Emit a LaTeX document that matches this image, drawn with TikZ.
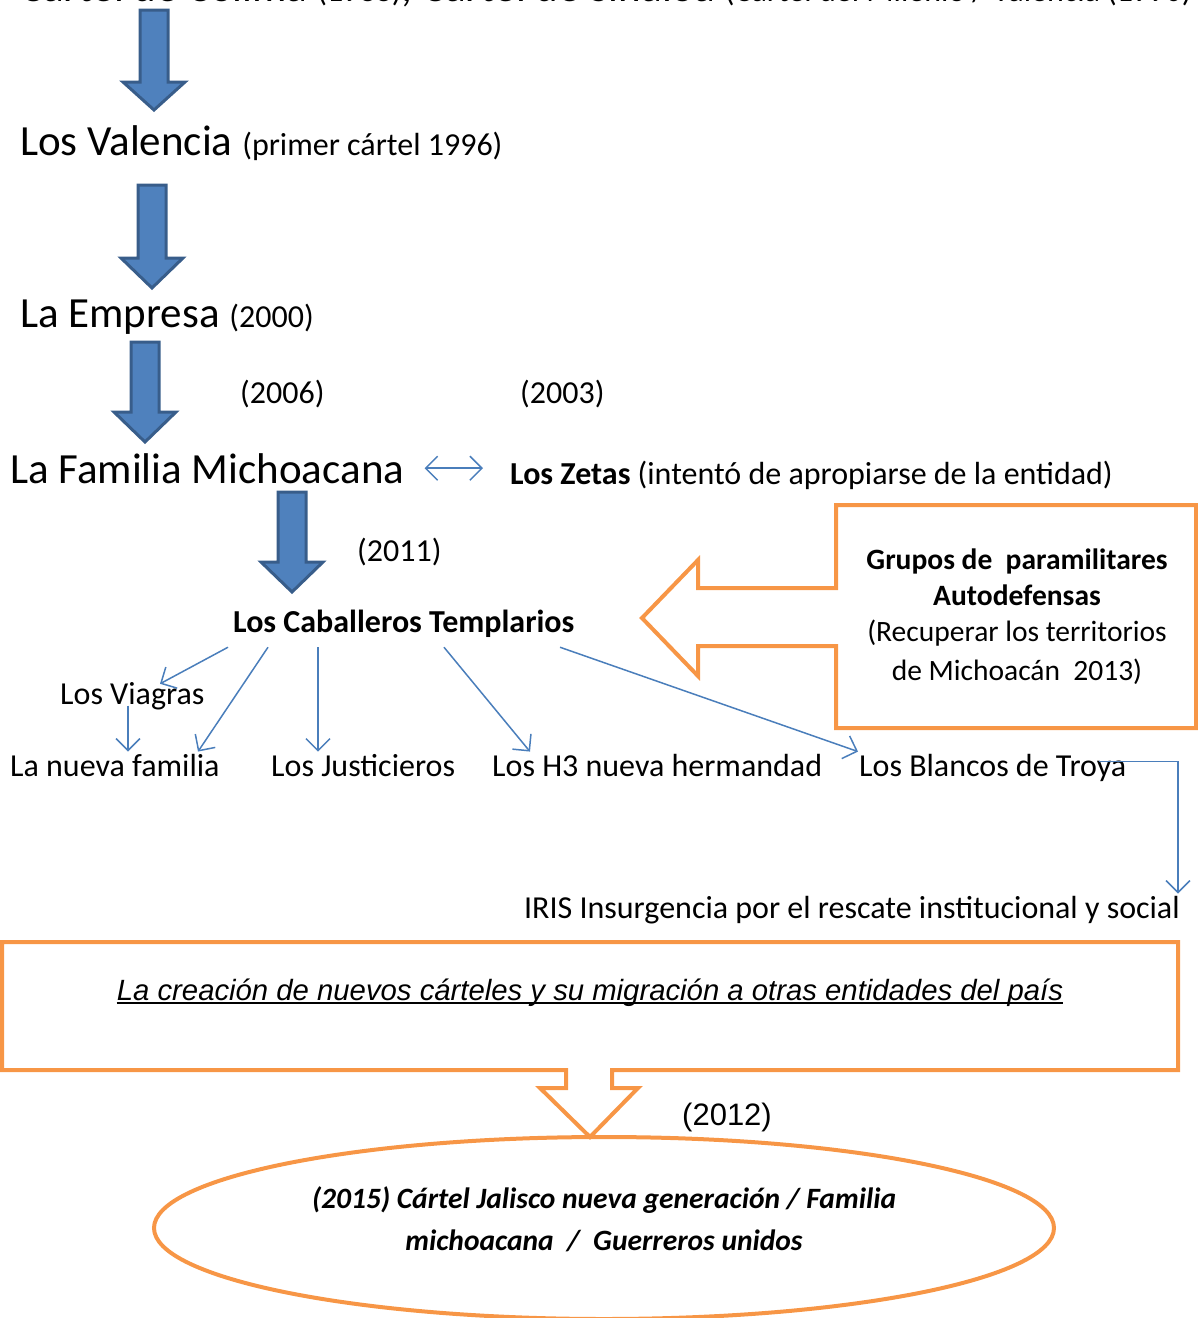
\documentclass[tikz,border=0pt]{standalone}
\usepackage{fontspec}
\setmainfont{Carlito}
\newfontfamily\arialfont{Liberation Sans}
\usetikzlibrary{arrows.meta, shapes, positioning}
\usepackage{xcolor}
\definecolor{arrowblue}{RGB}{79,129,189}
\definecolor{arrowborder}{RGB}{56,93,138}
\definecolor{lineblue}{RGB}{74,126,187}
\definecolor{boxorange}{RGB}{247,150,70}
\newcommand\midsize{\fontsize{32}{38}\selectfont}

\begin{document}
\begin{tikzpicture}[
        x=1pt, y=-1pt, line join=miter,
        bigtext/.style={anchor=base west, inner sep=0pt, font=\fontsize{43}{50}\selectfont},
        midtext/.style={anchor=base west, inner sep=0pt, font=\midsize},
        bluearrow/.style={fill=arrowblue, draw=arrowborder, line width=3pt},
        orangeshape/.style={draw=boxorange, line width=4pt},
        thinarrow/.style={draw=lineblue, line width=1.5pt, -{Straight Barb[length=12pt, width=24pt]}}
        ]
        \useasboundingbox (0,0) rectangle (1198,1318);
        \clip (0,0) rectangle (1198,1318);

        %% Texts
        \node[bigtext] (top) at (20,1) {C\'artel de Colima {\midsize(1988)}, C\'artel de Sinaloa {\midsize(C\'artel del Milenio / Valencia (1990)}};
        \node[bigtext] (val) at (20,155) {Los Valencia {\midsize(primer c\'artel 1996)}};
        \node[bigtext] (emp) at (20,327) {La Empresa {\midsize(2000)}};
        \node[midtext] (y06) at (240,403) {(2006)};
        \node[midtext] (y03) at (520,403) {(2003)};
        \node[bigtext] (fam) at (10,483) {La Familia Michoacana};
        \node[midtext] (zet) at (510,484) {\textbf{Los Zetas} (intent\'o de apropiarse de la entidad)};
        \node[midtext] (y11) at (357,561) {(2011)};
        \node[midtext, font=\midsize\bfseries] (cab) at (233,632) {Los Caballeros Templarios};
        \node[midtext] (via) at (60,704) {Los Viagras};
        \node[midtext] (nfa) at (10,776) {La nueva familia};
        \node[midtext] (jus) at (271,776) {Los Justicieros};
        \node[midtext] (hth) at (492,776) {Los H3 nueva hermandad};
        \node[midtext] (bla) at (859,776) {Los Blancos de Troya};
        \node[midtext, anchor=base east] (iris) at (1180,918) {IRIS Insurgencia por el rescate institucional y social};

        %% Block arrows
        \foreach \cx/\ta/\hb/\tb in {154/10/82/110, 152/185/258/288, 145/342/412/442, 292/492/562/592} {
            \draw[bluearrow] (\cx-14,\ta) -- (\cx+14,\ta) -- (\cx+14,\hb) -- (\cx+31,\hb) -- (\cx,\tb) -- (\cx-31,\hb) -- (\cx-14,\hb) -- cycle;
        }

        %% Connectors
        \draw[thinarrow, {Straight Barb[length=12pt, width=24pt]}-{Straight Barb[length=12pt, width=24pt]}]
            ([xshift=20pt]fam.east) -- ([xshift=-27pt]zet.west |- fam.east);
        \draw[thinarrow] ([xshift=-5pt, yshift=-10pt]cab.south west) -- ([xshift=100pt, yshift=-2pt]via.north west);
        \draw[thinarrow] ([xshift=35pt, yshift=-10pt]cab.south west) -- ([xshift=188pt, yshift=2pt]nfa.north west);
        \draw[thinarrow] ([xshift=85pt, yshift=-10pt]cab.south west) -- ([xshift=47pt, yshift=2pt]jus.north west);
        \draw[thinarrow] ([xshift=211pt, yshift=-10pt]cab.south west) -- ([xshift=38pt, yshift=2pt]hth.north west);
        \draw[thinarrow] ([xshift=327pt, yshift=-10pt]cab.south west) -- ([xshift=-1pt, yshift=2pt]bla.north west);
        \draw[thinarrow] ([xshift=68pt, yshift=4pt]via.south west) -- ([xshift=118pt, yshift=2pt]nfa.north west);
        \draw[thinarrow] ([xshift=-28pt, yshift=6pt]bla.east) -| ([xshift=-2pt, yshift=2pt]iris.north east);

        %% Autodefensas
        \draw[orangeshape] (836,505) -- (1196,505) -- (1196,728) -- (836,728) -- (836,646) -- (698,646) -- (698,676)
            -- (642,618) -- (698,560) -- (698,588) -- (836,588) -- cycle;
        \node[align=center, inner sep=0pt, font=\fontsize{29.5}{36}\selectfont] (gru) at (1017,617)
            {\textbf{Grupos de~~paramilitares}\\ \textbf{Autodefensas}\\ (Recuperar los territorios\\[3pt] de Michoac\'an~~2013)};

        %% Migracion
        \draw[orangeshape] (2,942) -- (1178,942) -- (1178,1070) -- (612,1070) -- (612,1088) -- (638,1088) -- (590,1137)
            -- (540,1088) -- (566,1088) -- (566,1070) -- (2,1070) -- cycle;
        \node[anchor=base, inner sep=0pt, font=\arialfont\fontsize{29.3}{34}\selectfont\itshape] (cre) at (590,1000)
            {La creaci\'on de nuevos c\'arteles y su migraci\'on a otras entidades del pa\'is};
        \draw[line width=1.5pt] ([yshift=-3pt]cre.base west) -- ([yshift=-3pt]cre.base east);
        \node[anchor=base west, inner sep=0pt, font=\arialfont\fontsize{31}{37}\selectfont] (y12) at (682,1125) {(2012)};

        \node[ellipse, orangeshape, minimum width=900pt, minimum height=182pt, inner sep=0pt] (jal) at (604,1228) {};
        \node[align=center, inner sep=0pt, font=\fontsize{29.5}{42}\selectfont\bfseries\itshape] (jtx) at (604,1219)
            {(2015) C\'artel Jalisco nueva generaci\'on / Familia\\ michoacana~~/~~Guerreros unidos};
\end{tikzpicture}
\end{document}
